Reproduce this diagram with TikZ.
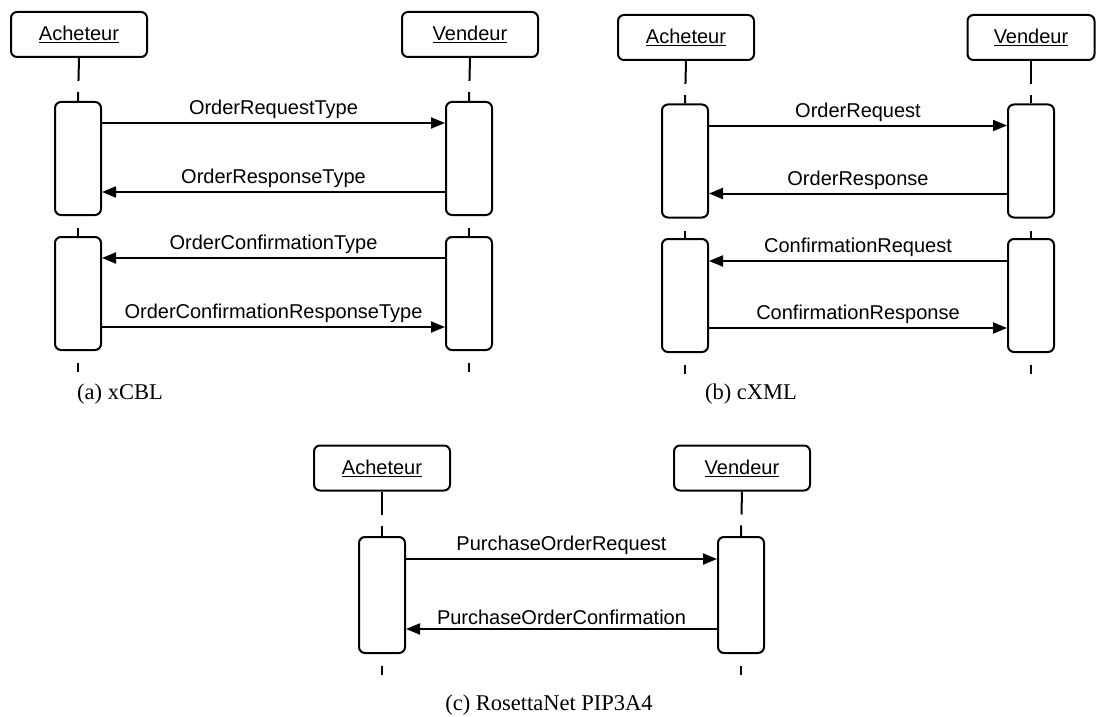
\documentclass[tikz,border=0pt]{standalone}
\usepackage{fontspec}
\setmainfont{Liberation Serif}
\setsansfont{Liberation Sans}
\usetikzlibrary{arrows.meta}

\tikzset{
  header/.style={draw, line width=2pt, rounded corners=6pt, minimum width=136pt,
    minimum height=45pt, fill=white, inner sep=0pt,
    font=\sffamily\fontsize{20}{23}\selectfont},
  act/.style={draw, line width=2pt, rounded corners=6pt, minimum width=46pt,
    minimum height=113pt, fill=white, inner sep=0pt},
  msg/.style={line width=2pt, -{Triangle[length=14pt,width=11pt]}},
  lbl/.style={above=3pt, inner sep=0pt, font=\sffamily\fontsize{20}{23}\selectfont},
  life/.style={line width=2pt, dash pattern=on 23pt off 11pt},
  stub/.style={line width=2pt, dash pattern=on 10pt off 12pt, dash phase=10pt},
  caption/.style={inner sep=0pt, font=\fontsize{22.5}{26}\selectfont}
}

\begin{document}
\begin{tikzpicture}[x=1pt, y=-1pt]
  \useasboundingbox[fill=white] (0,0) rectangle (1096,717);

  % ---------- (a) xCBL ----------
  \node[header] (aA) at (79,34.5) {\underline{Acheteur}};
  \node[header] (aV) at (470,34.5) {\underline{Vendeur}};
  \node[act] (aA1) at (78,158.5) {};
  \node[act] (aA2) at (78,293.5) {};
  \node[act] (aV1) at (469,158.5) {};
  \node[act] (aV2) at (469,293.5) {};
  \coordinate (aAe) at (78,372);
  \coordinate (aVe) at (469,372);
  \draw[life] (aA.south) -- (aA1.north);
  \draw[life] (aV.south) -- (aV1.north);
  \draw[stub] (aA1.south) -- (aA2.north);
  \draw[stub] (aV1.south) -- (aV2.north);
  \draw[stub] (aA2.south) -- (aAe);
  \draw[stub] (aV2.south) -- (aVe);
  \draw[msg] ([yshift=-22pt]aA1.north east) -- node[lbl] {OrderRequestType} ([yshift=-22pt]aV1.north west);
  \draw[msg] ([yshift=-91pt]aV1.north west) -- node[lbl] {OrderResponseType} ([yshift=-91pt]aA1.north east);
  \draw[msg] ([yshift=-22pt]aV2.north west) -- node[lbl] {OrderConfirmationType} ([yshift=-22pt]aA2.north east);
  \draw[msg] ([yshift=-91pt]aA2.north east) -- node[lbl] {OrderConfirmationResponseType} ([yshift=-91pt]aV2.north west);
  \node[caption] (capa) at (120,394) {(a) xCBL};

  % ---------- (b) cXML ----------
  \node[header] (bA) at (686,37.5) {\underline{Acheteur}};
  \node[header, minimum width=127pt] (bV) at (1031,37.5) {\underline{Vendeur}};
  \node[act] (bA1) at (685,161) {};
  \node[act] (bA2) at (685,295.5) {};
  \node[act] (bV1) at (1031,161) {};
  \node[act] (bV2) at (1031,295.5) {};
  \coordinate (bAe) at (685,374);
  \coordinate (bVe) at (1031,374);
  \draw[life] (bA.south) -- (bA1.north);
  \draw[life] (bV.south) -- (bV1.north);
  \draw[stub] (bA1.south) -- (bA2.north);
  \draw[stub] (bV1.south) -- (bV2.north);
  \draw[stub] (bA2.south) -- (bAe);
  \draw[stub] (bV2.south) -- (bVe);
  \draw[msg] ([yshift=-22pt]bA1.north east) -- node[lbl] {OrderRequest} ([yshift=-22pt]bV1.north west);
  \draw[msg] ([yshift=-90pt]bV1.north west) -- node[lbl] {OrderResponse} ([yshift=-90pt]bA1.north east);
  \draw[msg] ([yshift=-23pt]bV2.north west) -- node[lbl] {ConfirmationRequest} ([yshift=-23pt]bA2.north east);
  \draw[msg] ([yshift=-90pt]bA2.north east) -- node[lbl] {ConfirmationResponse} ([yshift=-90pt]bV2.north west);
  \node[caption] (capb) at (751,394) {(b) cXML};

  % ---------- (c) RosettaNet PIP3A4 ----------
  \node[header] (cA) at (382,468) {\underline{Acheteur}};
  \node[header] (cV) at (742,468) {\underline{Vendeur}};
  \node[act, minimum height=116pt] (cA1) at (382,595) {};
  \node[act, minimum height=116pt] (cV1) at (741,595) {};
  \coordinate (cAe) at (382,675);
  \coordinate (cVe) at (741,675);
  \draw[life] (cA.south) -- (cA1.north);
  \draw[life] (cV.south) -- (cV1.north);
  \draw[stub] (cA1.south) -- (cAe);
  \draw[stub] (cV1.south) -- (cVe);
  \draw[msg] ([yshift=-23pt]cA1.north east) -- node[lbl] {PurchaseOrderRequest} ([yshift=-23pt]cV1.north west);
  \draw[msg] ([yshift=-93pt]cV1.north west) -- node[lbl] {PurchaseOrderConfirmation} ([yshift=-93pt]cA1.north east);
  \node[caption] (capc) at (549,705) {(c) RosettaNet PIP3A4};
\end{tikzpicture}
\end{document}
